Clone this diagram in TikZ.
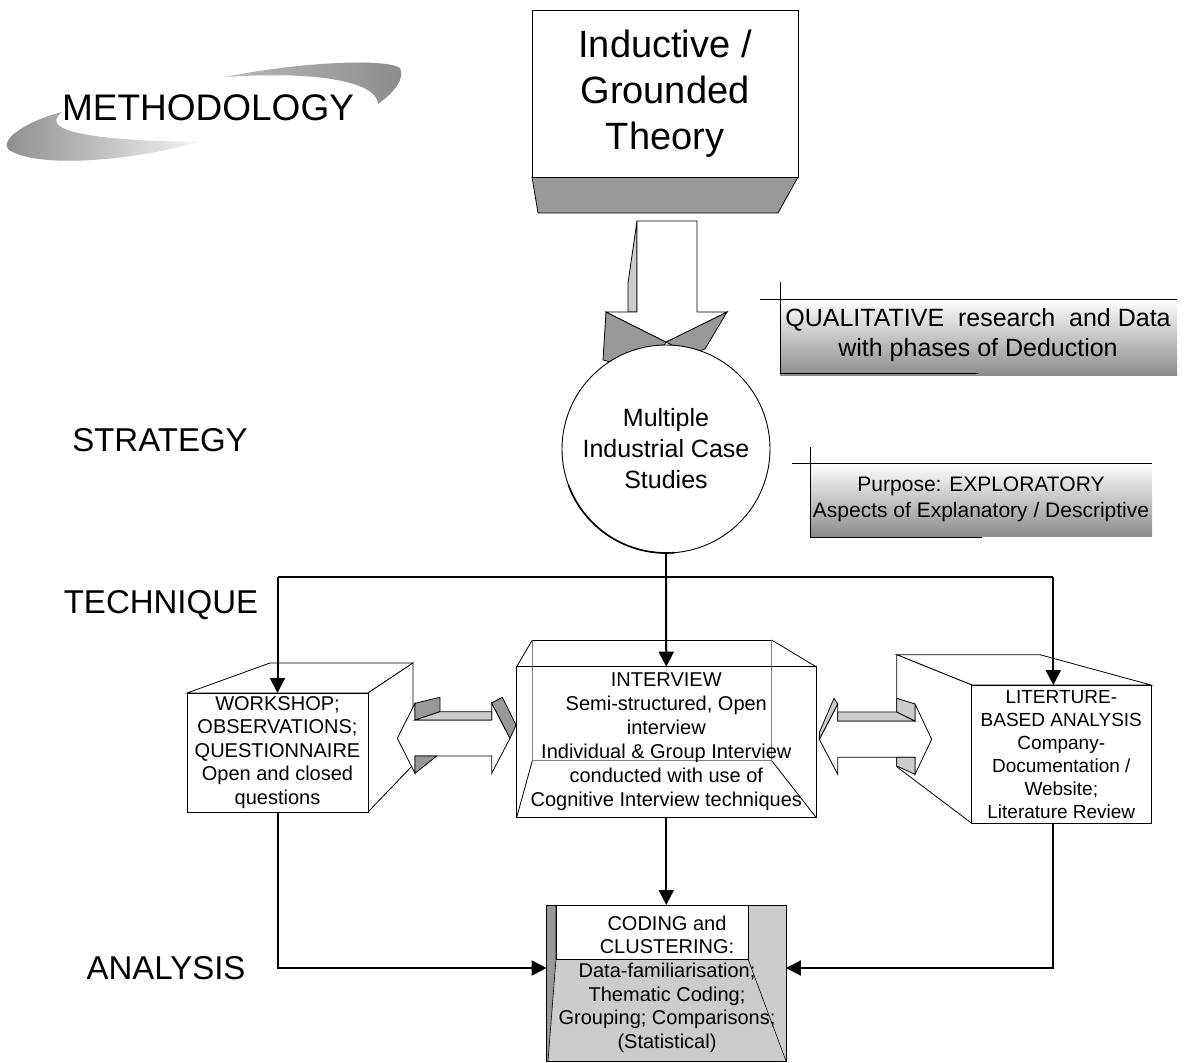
\documentclass[tikz,border=0pt]{standalone}
\usepackage{fontspec}
\setmainfont{Liberation Sans}
\usetikzlibrary{arrows.meta,calc}
\definecolor{dg}{HTML}{999999}
\definecolor{lg}{HTML}{CCCCCC}
\definecolor{gb}{HTML}{8C8C8C}
\begin{document}
\begin{tikzpicture}[x=1pt,y=1pt,
  arr/.style={line width=2pt,-{Triangle[length=15pt,width=15pt]}},
  ln/.style={line width=2pt},
  edge3d/.style={line width=0.8pt},
  boxn/.style={draw,line width=0.9pt,fill=white,inner sep=0pt,outer sep=0pt,align=center},
  lbl/.style={font=\fontsize{33}{40}\selectfont}]
\useasboundingbox (0,0) rectangle (1184,-1063);

% ---------- METHODOLOGY swoosh ----------
\shade[left color=gb,right color=gray!8]
  (200,-142) .. controls (120,-164) and (30,-167) .. (8,-149)
  .. controls (0,-138) and (30,-120) .. (62,-112)
  .. controls (45,-126) and (60,-140) .. (200,-142) -- cycle;
\shade[left color=gray!55,middle color=gray!8,right color=gb]
  (225,-77) .. controls (300,-62) and (385,-58) .. (400,-68)
  .. controls (405,-78) and (395,-92) .. (378,-104)
  .. controls (378,-85) and (330,-70) .. (225,-77) -- cycle;
\node[font=\fontsize{37}{44}\selectfont] (meth) at (208,-108) {METHODOLOGY};

% ---------- left labels ----------
\node[lbl] (strategy) at (160,-440) {STRATEGY};
\node[lbl] (technique) at (161,-605) {TECHNIQUE};
\node[lbl] (analysis) at (166,-968) {ANALYSIS};

% ---------- theory box ----------
\filldraw[fill=dg,edge3d] (532,-177) -- (798,-177) -- (778,-213) -- (538,-213) -- cycle;
\node[boxn,minimum width=266pt,minimum height=167pt,font=\fontsize{38}{46}\selectfont]
  (theory) at (665,-93.5) {Inductive /\\Grounded\\Theory};

% ---------- block arrow down ----------
\filldraw[fill=lg,edge3d] (637,-221) -- (628,-283) -- (628,-312) -- (637,-312) -- cycle;
\filldraw[fill=dg,edge3d] (606,-312) -- (666,-342) -- (650,-372) -- (603,-360) -- cycle;
\filldraw[fill=dg,edge3d] (727,-312) -- (666,-342) -- (690,-354) -- (705,-349) -- cycle;
\filldraw[fill=white,edge3d] (637,-221) -- (697,-221) -- (697,-312) -- (727,-312)
  -- (666,-342) -- (606,-312) -- (637,-312) -- cycle;

% ---------- case studies circle ----------
\node[circle,draw,fill=white,line width=0.9pt,minimum size=208pt,inner sep=0pt,outer sep=0pt,
  align=center,font=\fontsize{25}{31}\selectfont] (cases) at (666,-449)
  {Multiple\\Industrial Case\\Studies};
\draw[line width=1.6pt] (cases.200) arc[start angle=200,end angle=275,radius=104pt];

% ---------- qualitative label ----------
\shade[top color=white,bottom color=gb] (780,-299) rectangle (1177,-375);
\draw[edge3d] (760,-299) -- (1177,-299);
\draw[edge3d] (780,-282) -- (780,-373) -- (978,-373);
\node[align=center,font=\fontsize{25}{30}\selectfont] (qual) at (978,-335)
  {QUALITATIVE~ research~ and Data\\with phases of Deduction};

% ---------- purpose label ----------
\shade[top color=white,bottom color=gb] (810,-463) rectangle (1152,-536);
\draw[edge3d] (792,-463) -- (1152,-463);
\draw[edge3d] (810,-447) -- (810,-537) -- (982,-537);
\node[align=center,font=\fontsize{21}{26}\selectfont] (purp) at (981,-499)
  {Purpose: EXPLORATORY\\Aspects of Explanatory / Descriptive};

% ---------- workshop cube ----------
\filldraw[fill=white,edge3d] (187,-693) -- (270,-663) -- (413,-663) -- (368,-693) -- cycle;
\filldraw[fill=white,edge3d] (368,-693) -- (413,-663) -- (413,-765) -- (368,-812) -- cycle;
\node[boxn,minimum width=181pt,minimum height=119pt,font=\fontsize{20}{23.5}\selectfont]
  (workshop) at (277.5,-752.5) {WORKSHOP;\\OBSERVATIONS;\\QUESTIONNAIRE\\Open and closed\\questions};

% ---------- interview wireframe ----------
\draw[edge3d] (532.3,-640) -- (771.7,-640);
\draw[edge3d,gray] (532.3,-640) -- (532.3,-760.7) -- (771.7,-760.7) -- (771.7,-640);
\draw[edge3d] (516.7,-666.7) -- (532.3,-640);
\draw[edge3d] (816,-666.7) -- (771.7,-640);
\draw[edge3d] (516.7,-817.3) -- (532.3,-760.7);
\draw[edge3d] (816,-817.3) -- (771.7,-760.7);
\node[draw,line width=0.9pt,minimum width=299.3pt,minimum height=150.6pt,inner sep=0pt,outer sep=0pt,
  align=center,font=\fontsize{20}{24}\selectfont] (interview) at (666.3,-742)
  {INTERVIEW\\Semi-structured, Open\\interview\\Individual \& Group Interview\\conducted with use of\\Cognitive Interview techniques};

% ---------- literature cube ----------
\filldraw[fill=white,edge3d] (971.7,-685) -- (896.7,-654.7) -- (1040,-654.7) -- (1151,-685) -- cycle;
\filldraw[fill=white,edge3d] (971.7,-685) -- (896.7,-654.7) -- (896.7,-766.7) -- (971.7,-823.3) -- cycle;
\node[boxn,minimum width=179.3pt,minimum height=138.3pt,font=\fontsize{19}{23}\selectfont]
  (lit) at (1061.3,-754.2) {LITERTURE-\\BASED ANALYSIS\\Company-\\Documentation /\\Website;\\Literature Review};

% ---------- left double arrow ----------
\filldraw[fill=white,edge3d] (397.3,-738.3) -- (415,-703.3) -- (415,-720) -- (491.7,-720) -- (491.7,-703)
  -- (510,-738.3) -- (491.7,-773.3) -- (491.7,-756) -- (415,-756) -- (415,-773.3) -- cycle;
\filldraw[fill=dg,edge3d] (415,-703.3) -- (440,-697.3) -- (440,-711.7) -- (415,-720) -- cycle;
\filldraw[fill=lg,edge3d] (415,-720) -- (440,-711.7) -- (491.7,-711.7) -- (491.7,-720) -- cycle;
\filldraw[fill=dg,edge3d] (491.7,-703) -- (502.3,-697.3) -- (516,-725) -- (510,-738.3) -- cycle;
\filldraw[fill=dg,edge3d] (415,-756) -- (436.7,-756) -- (415,-773.3) -- cycle;

% ---------- right double arrow ----------
\filldraw[fill=white,edge3d] (819.3,-739.3) -- (837.7,-704) -- (837.7,-721) -- (915,-721) -- (915,-704)
  -- (931.7,-739.3) -- (915,-774.3) -- (915,-757.3) -- (837.7,-757.3) -- (837.7,-774.3) -- cycle;
\filldraw[fill=lg,edge3d] (837.7,-712) -- (896.7,-712) -- (915,-721) -- (837.7,-721) -- cycle;
\filldraw[fill=lg,edge3d] (896.7,-698.3) -- (915,-704) -- (915,-721) -- (896.7,-712) -- cycle;
\filldraw[fill=lg,edge3d] (896.7,-757.3) -- (915,-757.3) -- (915,-774.3) -- (896.7,-766) -- cycle;
\filldraw[fill=lg,edge3d] (819.3,-739.3) -- (819.5,-732) -- (834,-698.3) -- (837.7,-704) -- cycle;

% ---------- coding box ----------
\node[draw,fill=lg,line width=0.9pt,minimum width=239.3pt,minimum height=156pt,inner sep=0pt,outer sep=0pt]
  (coding) at (666.3,-983) {};
\filldraw[fill=white,line width=0.6pt] (556,-905) rectangle (748,-959);
\fill[dg] (547,-905) -- (556,-905) -- (556,-959) -- (548,-1061) -- (547,-1061) -- cycle;
\draw[line width=0.6pt] (556,-905) -- (556,-959) -- (548,-1061);
\draw[line width=0.6pt] (748,-959) -- (786,-1061);
\draw[line width=0.9pt] (coding.north west) rectangle (coding.south east);
\node[align=center,font=\fontsize{20}{23.5}\selectfont] (codt) at (667,-935)
  {CODING and\\CLUSTERING:};
\node[align=center,font=\fontsize{20}{23.5}\selectfont] (codb) at (667,-1008)
  {Data-familiarisation;\\Thematic Coding;\\Grouping; Comparisons;\\(Statistical)};

% ---------- connectors ----------
\coordinate (junc) at (666,-577);
\draw[ln] (cases.south) -- (junc);
\draw[ln] (workshop.north |- junc) -- ([xshift=-8pt]lit.north |- junc);
\draw[arr] (junc) -- (interview.north);
\draw[arr] (workshop.north |- junc) -- (workshop.north);
\draw[arr] ([xshift=-8pt]lit.north |- junc) -- ([xshift=-8pt]lit.north);
\draw[arr] (interview.south) -- (coding.north);
\draw[arr] (workshop.south) |- ([yshift=15pt]coding.west);
\draw[arr] ([xshift=-8pt]lit.south) |- ([yshift=15pt]coding.east);
\end{tikzpicture}
\end{document}
